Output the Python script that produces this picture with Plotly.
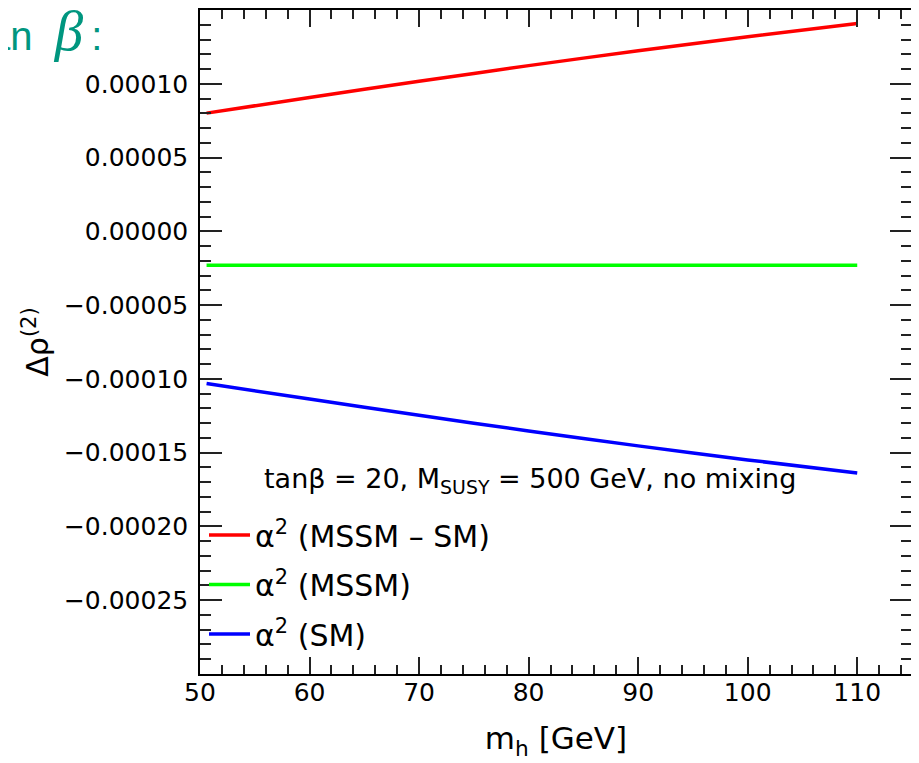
import plotly.graph_objects as go

# ---- data ----
mh = [50.6, 60, 70, 80, 90, 100, 110]
mssm_minus_sm = [0.0000801, 0.0000907, 0.0001017, 0.0001123, 0.0001224, 0.0001319, 0.0001408]
mssm = [-0.0000230, -0.0000230, -0.0000230, -0.0000230, -0.0000230, -0.0000230, -0.0000230]
sm = [-0.0001031, -0.0001137, -0.0001247, -0.0001353, -0.0001454, -0.0001549, -0.0001638]

series_names = ["α<sup>2</sup> (MSSM – SM)", "α<sup>2</sup> (MSSM)", "α<sup>2</sup> (SM)"]
series_colors = ["#FF0000", "#00FF00", "#0000FF"]

x_ticks = [50, 60, 70, 80, 90, 100, 110]
y_ticks = [-0.00025, -0.00020, -0.00015, -0.00010, -0.00005, 0.0, 0.00005, 0.00010]

FONT = "DejaVu Sans"
OFF = 8  # page body margin

fig = go.Figure()
for i, (name, ys, col) in enumerate(zip(series_names, [mssm_minus_sm, mssm, sm], series_colors)):
    fig.add_trace(go.Scatter(x=mh, y=ys, mode="lines", name=name,
                             line=dict(color=col, width=3.5, shape="spline", smoothing=0.6),
                             legendgroup=f"g{i}"))

W, H = 911, 755
L, R, T, B = 192, 7, 2, 89
pw = W - L - R
ph = H - T - B

def px(xp):
    return (xp - OFF - L) / pw

def py(yp):
    return (H - B - (yp - OFF)) / ph

axis_common = dict(showline=True, linecolor="black", linewidth=1.5, mirror="allticks",
                   ticks="inside", tickcolor="#222", tickwidth=1.5,
                   showgrid=False, zeroline=False,
                   tickfont=dict(family=FONT, size=25, color="black"))

fig.update_xaxes(range=[50, 115], tickvals=x_ticks, ticklen=17, ticklabelstandoff=-5,
                 minor=dict(dtick=2, tick0=50, ticks="inside", ticklen=9, tickcolor="#222", tickwidth=1.5),
                 title=dict(text="m<sub>h</sub> [GeV]", font=dict(family=FONT, size=31, color="black"), standoff=22),
                 **axis_common)
fig.update_yaxes(range=[-0.0003, 0.00015], tickvals=y_ticks, tickformat=".5f", ticklen=22, ticklabelstandoff=5,
                 minor=dict(dtick=0.00001, tick0=0, ticks="inside", ticklen=11, tickcolor="#222", tickwidth=1.5),
                 title=dict(text="Δρ<sup>(2)</sup>", font=dict(family=FONT, size=30, color="black"), standoff=6),
                 **axis_common)

fig.add_annotation(xref="paper", yref="paper", x=px(262), y=py(481), xanchor="left", yanchor="middle",
                   text="tanβ = 20, M<sub>SUSY</sub> = 500 GeV, no mixing", showarrow=False,
                   font=dict(family=FONT, size=27, color="black"))

fig.add_annotation(xref="paper", yref="paper", x=px(104), y=py(31), xanchor="right", yanchor="middle",
                   text="tan  <span style=\"font-family:'Liberation Serif';font-size:57px\"><i>β</i></span>\u2009:",
                   showarrow=False,
                   font=dict(family="Liberation Sans", size=40, color="#00967F"))

fig.update_layout(
    width=W, height=H,
    margin=dict(l=L, r=R, t=T, b=B, autoexpand=False),
    plot_bgcolor="white", paper_bgcolor="white",
    showlegend=True,
    legend=dict(x=px(204), y=py(509), xanchor="left", yanchor="top",
                bgcolor="rgba(0,0,0,0)", font=dict(family=FONT, size=30, color="black"),
                tracegroupgap=7.5, itemwidth=41),
)

fig.write_html("out.html")
